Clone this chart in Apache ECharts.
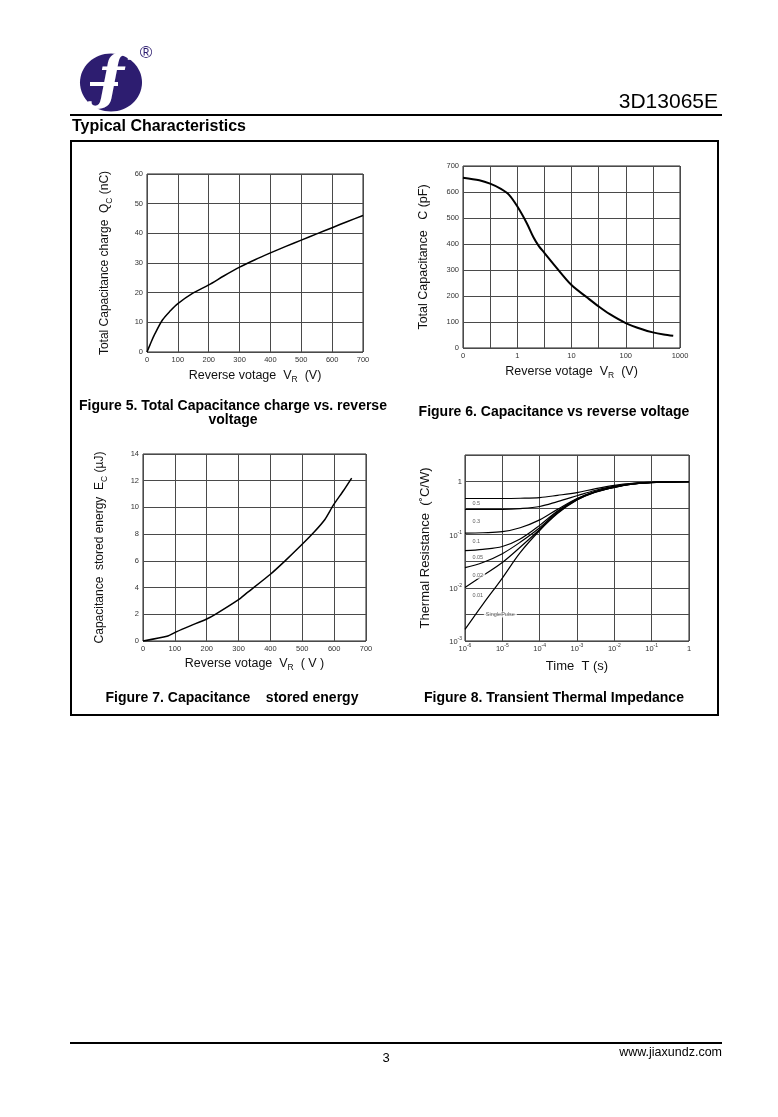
<!DOCTYPE html>
<html><head><meta charset="utf-8">
<script src="https://cdn.jsdelivr.net/npm/echarts@6.0.0/dist/echarts.min.js"></script>
<style>html,body{margin:0;padding:0;background:#fff}#c{width:778px;height:1117px}</style>
</head><body><div id="c"></div>
<script>
// ---------- Figure 5 : total capacitance charge ----------
const fig5Voltage = [0, 10, 25, 50, 75, 100, 150, 200, 250, 300, 350, 400, 450, 500, 550, 600, 650, 700];
const fig5Charge  = [0, 2.5, 6, 10.8, 13.8, 16.3, 19.9, 22.6, 25.7, 28.6, 31.1, 33.4, 35.6, 37.7, 39.8, 41.9, 44, 46];

// ---------- Figure 6 : capacitance vs reverse voltage ----------
const fig6Voltage = [0.1, 0.2, 0.316, 0.5, 0.7, 1, 1.5, 2, 2.5, 3.16, 5, 10, 20, 31.6, 50, 100, 200, 316, 500, 750];
const fig6Cap     = [655, 645, 632, 612, 590, 545, 480, 425, 392, 366, 315, 242, 192, 160, 131, 96, 72, 60, 52, 47];

// ---------- Figure 7 : capacitance stored energy ----------
const fig7Voltage = [0, 75, 106, 150, 200, 227, 300, 326, 400, 446, 498, 535, 571, 597, 629, 655];
const fig7Energy  = [0, 0.35, 0.7, 1.15, 1.65, 2.0, 3.1, 3.6, 5.0, 6.0, 7.2, 8.1, 9.1, 10.15, 11.25, 12.2];

// ---------- Figure 8 : transient thermal impedance ----------
const fig8Time = [1e-6, 3e-6, 1e-5, 3e-5, 1e-4, 3e-4, 1e-3, 3e-3, 1e-2, 3e-2, 1e-1, 3e-1, 1];
const fig8Duty = ['0.5', '0.3', '0.1', '0.05', '0.02', '0.01', 'SinglePulse'];
const fig8Z = [
  [0.48, 0.48, 0.48, 0.485, 0.50, 0.55, 0.62, 0.73, 0.85, 0.93, 0.97, 0.99, 1.0],
  [0.30, 0.30, 0.30, 0.31, 0.34, 0.42, 0.54, 0.68, 0.82, 0.92, 0.97, 0.99, 1.0],
  [0.107, 0.109, 0.114, 0.135, 0.19, 0.30, 0.48, 0.65, 0.80, 0.91, 0.96, 0.99, 1.0],
  [0.05, 0.053, 0.06, 0.083, 0.15, 0.28, 0.47, 0.64, 0.79, 0.90, 0.96, 0.99, 1.0],
  [0.024, 0.03, 0.044, 0.072, 0.135, 0.27, 0.46, 0.635, 0.785, 0.90, 0.96, 0.99, 1.0],
  [0.0102, 0.017, 0.030, 0.058, 0.125, 0.26, 0.455, 0.63, 0.78, 0.895, 0.955, 0.99, 1.0],
  [0.00165, 0.0049, 0.0153, 0.046, 0.12, 0.25, 0.45, 0.625, 0.78, 0.895, 0.955, 0.99, 1.0]
];
// label anchor points (time, value) for the curve tags
const fig8LabelTime  = [1.4e-6, 1.4e-6, 1.4e-6, 1.4e-6, 1.4e-6, 1.4e-6, 3.2e-6];
const fig8LabelValue = [0.39, 0.18, 0.073, 0.037, 0.017, 0.0071, 0.00316];

const FONT = '"Liberation Sans", Arial, sans-serif';
const GRID_C = '#4a4a4a';
const tickLabel = {fontSize: 7.5, color: '#333', fontFamily: FONT, margin: 4};
const split = {show: true, lineStyle: {color: GRID_C, width: 1}};
const noLine = {show: false};

function nameRich(size, subSize) {
  return {
    fontFamily: FONT, color: '#111',
    rich: {
      n: {fontSize: size, fontFamily: FONT, color: '#111', lineHeight: size + 3, verticalAlign: 'top'},
      s: {fontSize: subSize, fontFamily: FONT, color: '#111', lineHeight: size + 3, verticalAlign: 'bottom'}
    }
  };
}
function powLabel(v) {
  const l = Math.log10(v);
  const e = Math.round(l);
  if (Math.abs(l - e) > 0.01) return '';
  return e === 0 ? '{b|1}' : '{b|10}{sup|' + e + '}';
}
const powRich = {
  b: {fontSize: 7.5, color: '#333', fontFamily: FONT, lineHeight: 9.5, verticalAlign: 'bottom'},
  sup: {fontSize: 5, color: '#333', fontFamily: FONT, lineHeight: 9.5, verticalAlign: 'top'}
};

const grids = [
  {left: 147, top: 174, width: 216, height: 178},
  {left: 463, top: 166, width: 217, height: 182},
  {left: 143, top: 454, width: 223, height: 187},
  {left: 465, top: 455, width: 224, height: 186}
].map(g => Object.assign({show: true, borderColor: '#222', borderWidth: 1, containLabel: false}, g));

const xAxis = [
  {gridIndex: 0, type: 'value', min: 0, max: 700, interval: 100, axisLine: noLine, axisTick: noLine,
   axisLabel: tickLabel, splitLine: split,
   name: '{n|Reverse votage  V}{s|R}{n|  (V)}', nameLocation: 'middle', nameGap: 17, nameTextStyle: nameRich(12.5, 8.5)},
  {gridIndex: 1, type: 'log', logBase: 10, min: 0.1, max: 1000, axisLine: noLine, axisTick: noLine,
   axisLabel: Object.assign({}, tickLabel, {formatter: v => (v < 0.5 ? '0' : String(Math.round(v)))}),
   splitLine: {show: false},
   name: '{n|Reverse votage  V}{s|R}{n|  (V)}', nameLocation: 'middle', nameGap: 17, nameTextStyle: nameRich(12.5, 8.5)},
  {gridIndex: 1, type: 'value', position: 'top', min: -1, max: 3, interval: 0.5, axisLine: noLine, axisTick: noLine,
   axisLabel: {show: false}, splitLine: split},
  {gridIndex: 2, type: 'value', min: 0, max: 700, interval: 100, axisLine: noLine, axisTick: noLine,
   axisLabel: tickLabel, splitLine: split,
   name: '{n|Reverse votage  V}{s|R}{n|  ( V )}', nameLocation: 'middle', nameGap: 16, nameTextStyle: nameRich(12.5, 8.5)},
  {gridIndex: 3, type: 'log', logBase: 10, min: 1e-6, max: 1, axisLine: noLine, axisTick: noLine,
   axisLabel: Object.assign({}, tickLabel, {formatter: powLabel, rich: powRich, margin: 2}), splitLine: split,
   name: 'Time  T (s)', nameLocation: 'middle', nameGap: 19,
   nameTextStyle: {fontSize: 13, fontFamily: FONT, color: '#111'}}
];

const yAxis = [
  {gridIndex: 0, type: 'value', min: 0, max: 60, interval: 10, axisLine: noLine, axisTick: noLine,
   axisLabel: tickLabel, splitLine: split,
   name: '{n|Total Capacitance charge  Q}{s|C}{n| (nC)}', nameLocation: 'middle', nameGap: 33, nameRotate: 90,
   nameTextStyle: nameRich(12, 8.5)},
  {gridIndex: 1, type: 'value', min: 0, max: 700, interval: 100, axisLine: noLine, axisTick: noLine,
   axisLabel: tickLabel, splitLine: split,
   name: 'Total Capacitance   C (pF)', nameLocation: 'middle', nameGap: 33, nameRotate: 90,
   nameTextStyle: {fontSize: 12.5, fontFamily: FONT, color: '#111'}},
  {gridIndex: 2, type: 'value', min: 0, max: 14, interval: 2, axisLine: noLine, axisTick: noLine,
   axisLabel: tickLabel, splitLine: split,
   name: '{n|Capacitance  stored energy  E}{s|C}{n| (µJ)}', nameLocation: 'middle', nameGap: 34, nameRotate: 90,
   nameTextStyle: nameRich(12, 8.5)},
  {gridIndex: 3, type: 'log', logBase: 10, min: 0.001, max: 3.1623, axisLine: noLine, axisTick: noLine,
   axisLabel: Object.assign({}, tickLabel, {formatter: powLabel, rich: powRich, margin: 3}), splitLine: {show: false},
   name: 'Thermal Resistance  (˚C/W)', nameLocation: 'middle', nameGap: 33, nameRotate: 90,
   nameTextStyle: {fontSize: 13, fontFamily: FONT, color: '#111'}},
  {gridIndex: 3, type: 'value', position: 'right', min: -3, max: 0.5, interval: 0.5, axisLine: noLine, axisTick: noLine,
   axisLabel: {show: false}, splitLine: split}
];

const line = (xi, yi, xs, ys, w, smooth) => ({
  type: 'line', xAxisIndex: xi, yAxisIndex: yi, data: xs.map((x, i) => [x, ys[i]]),
  showSymbol: false, smooth: smooth, lineStyle: {color: '#000', width: w}, silent: true, z: 5
});

const series = [
  line(0, 0, fig5Voltage, fig5Charge, 1.5, 0.3),
  line(1, 1, fig6Voltage, fig6Cap, 2, 0.3),
  line(3, 2, fig7Voltage, fig7Energy, 1.5, 0.2)
];
fig8Z.forEach(z => series.push(line(4, 3, fig8Time, z, 1.2, 0.35)));
series.push({
  type: 'scatter', xAxisIndex: 4, yAxisIndex: 3, symbolSize: 0, silent: true, z: 6,
  data: fig8Duty.map((d, i) => ({name: d, value: [fig8LabelTime[i], fig8LabelValue[i]]})),
  label: {show: true, position: [0, 0], align: 'left', verticalAlign: 'middle', formatter: '{b}',
          fontSize: 5.5, color: '#333', fontFamily: FONT, backgroundColor: '#fff', padding: [0, 2]}
});

const txt = (x, y, text, size, opt) => ({
  type: 'text', x: x, y: y, silent: true,
  style: Object.assign({text: text, fontSize: size, fontFamily: FONT, fill: '#000', align: 'left', verticalAlign: 'middle'}, opt || {})
});

const graphic = [
  // logo
  {type: 'ellipse', shape: {cx: 111, cy: 82.5, rx: 31, ry: 29}, style: {fill: '#2d1d70'}, silent: true},
  txt(111, 82, 'ƒ', 60, {fill: '#fff', align: 'center', fontFamily: '"DejaVu Serif", serif', fontWeight: 'bold', fontStyle: 'italic'}),
  {type: 'rect', shape: {x: 90, y: 82, width: 28, height: 4}, style: {fill: '#fff'}, silent: true},
  txt(146, 53, '®', 17, {fill: '#2d1d70', align: 'center'}),
  txt(718, 102, '3D13065E', 21, {align: 'right'}),
  {type: 'rect', shape: {x: 70, y: 114, width: 652, height: 2}, style: {fill: '#000'}, silent: true},
  txt(72, 127, 'Typical Characteristics', 16, {fontWeight: 'bold'}),
  {type: 'rect', shape: {x: 71, y: 141, width: 647, height: 574}, style: {fill: 'none', stroke: '#000', lineWidth: 2}, silent: true},
  txt(233, 406, 'Figure 5. Total Capacitance charge vs. reverse', 14, {fontWeight: 'bold', align: 'center'}),
  txt(233, 420, 'voltage', 14, {fontWeight: 'bold', align: 'center'}),
  txt(554, 412, 'Figure 6. Capacitance vs reverse voltage', 14, {fontWeight: 'bold', align: 'center'}),
  txt(232, 698, 'Figure 7. Capacitance    stored energy', 14, {fontWeight: 'bold', align: 'center'}),
  txt(554, 698, 'Figure 8. Transient Thermal Impedance', 14, {fontWeight: 'bold', align: 'center'}),
  {type: 'rect', shape: {x: 70, y: 1042, width: 652, height: 2}, style: {fill: '#000'}, silent: true},
  txt(386, 1058, '3', 13, {align: 'center'}),
  txt(722, 1053, 'www.jiaxundz.com', 12.5, {align: 'right'})
];

const chart = echarts.init(document.getElementById('c'), null, {renderer: 'canvas'});
chart.setOption({
  animation: false,
  backgroundColor: '#fff',
  grid: grids, xAxis: xAxis, yAxis: yAxis, series: series, graphic: graphic
});
</script></body></html>
